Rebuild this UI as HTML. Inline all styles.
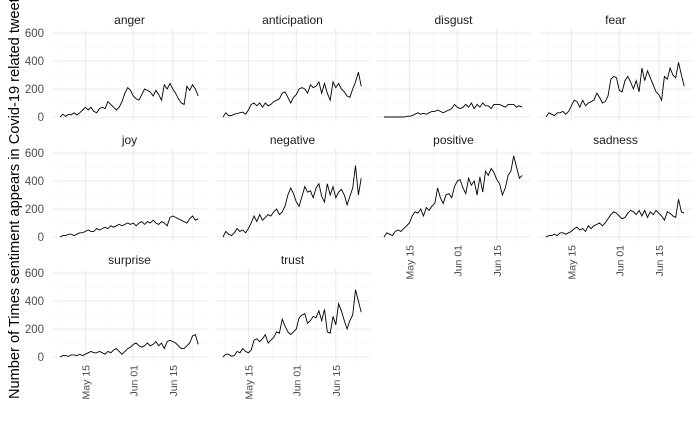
<!DOCTYPE html>
<html><head><meta charset="utf-8"><style>
body{margin:0;background:#fff;}
svg{display:block;font-family:"Liberation Sans",sans-serif;}
</style></head><body>
<svg id="chart" width="700" height="432" viewBox="0 0 700 432" xmlns="http://www.w3.org/2000/svg">
<text transform="translate(19,195) rotate(-90)" text-anchor="middle" font-size="14.6" fill="#000">Number of Times sentiment appears in Covid-19 related tweets</text>
</svg>
<script>
const facetNames = ["anger","anticipation","disgust","fear","joy","negative","positive","sadness","surprise","trust"];
const angerVals = [0,20,5,20,15,30,15,30,50,70,50,70,40,30,60,70,60,110,90,70,50,70,110,170,210,190,150,130,120,160,200,190,180,150,190,160,120,230,200,240,200,170,130,100,90,220,190,230,200,150];
const anticipationVals = [0,30,10,10,20,25,30,35,20,50,90,100,80,100,70,100,80,90,110,120,130,170,180,140,100,140,160,200,210,200,170,230,210,220,250,170,240,170,120,250,210,240,200,180,150,140,200,250,320,220];
const disgustVals = [0,0,0,0,0,0,0,0,5,5,10,20,30,20,25,20,30,40,40,50,40,30,40,50,60,90,70,60,70,90,70,100,60,90,70,100,80,80,60,90,90,90,80,70,90,90,90,70,80,70];
const fearVals = [0,30,20,10,30,30,40,20,40,80,120,110,70,120,80,100,110,120,170,140,100,110,150,270,290,280,190,180,260,290,250,200,260,180,350,260,330,280,230,180,160,120,290,270,350,300,280,390,300,220];
const joyVals = [0,10,10,20,20,10,20,30,30,40,50,40,40,60,50,60,70,60,80,70,80,90,80,90,100,90,100,80,100,110,90,110,100,120,100,90,110,100,80,140,150,140,130,120,110,100,130,150,120,130];
const negativeVals = [0,40,20,10,30,60,40,50,30,60,100,150,110,160,120,140,160,150,180,200,160,180,220,300,350,310,250,220,290,360,320,330,280,350,380,290,250,380,300,360,280,320,340,300,230,290,350,510,300,420];
const positiveVals = [0,30,20,10,40,50,40,60,80,100,150,180,170,200,150,210,190,220,240,350,280,240,300,310,280,360,400,410,350,310,420,370,400,300,430,320,470,440,490,460,410,380,300,350,440,470,580,500,420,440];
const sadnessVals = [0,10,10,20,10,30,30,20,30,40,60,70,50,60,40,80,60,80,90,100,80,100,130,160,180,170,150,130,140,170,190,180,160,190,150,190,140,180,160,190,170,150,120,180,170,150,140,270,180,170];
const surpriseVals = [0,10,10,5,15,15,10,20,10,20,30,40,30,30,40,30,20,40,30,50,60,40,20,40,60,70,90,100,80,70,80,100,80,90,110,80,100,60,110,120,110,100,80,60,60,80,100,150,160,90];
const trustVals = [0,20,20,5,10,40,30,60,40,30,50,120,130,110,130,160,100,120,140,180,170,270,220,180,160,180,200,280,300,310,240,260,290,280,330,260,340,180,170,290,230,380,330,260,200,260,300,480,400,320];
const yTicks = [0,200,400,600];
const yMinor = [100,300,500];
const xTickLabels = ["May 15","Jun 01","Jun 15"];
const xTickDays = [9,26,40];
const xMinorDays = [0.5,17.5,33,47];

const series = [angerVals,anticipationVals,disgustVals,fearVals,joyVals,negativeVals,positiveVals,sadnessVals,surpriseVals,trustVals];
const NS = "http://www.w3.org/2000/svg";
const svg = document.getElementById("chart");
const colLeft = [52,215,376,538], panelW = 155;
const rowZero = [117,237,357];
const ppu = 84/600;
function xs(col, d){ return colLeft[col] + 8 + d*2.82; }
function ys(row, v){ return rowZero[row] - v*ppu; }
function mk(tag, attrs){ const e=document.createElementNS(NS,tag); for(const k in attrs) e.setAttribute(k,attrs[k]); svg.appendChild(e); return e; }
const bottomFacets = {6:true,7:true,8:true,9:true};
facetNames.forEach((name,i)=>{
  const row=Math.floor(i/4), col=i%4;
  const top=ys(row,630), bot=ys(row,-30);
  const g=mk("g",{});
  
  
  yMinor.forEach(v=>{ const l=mk("line",{x1:colLeft[col],x2:colLeft[col]+panelW,y1:ys(row,v),y2:ys(row,v),stroke:"#f3f3f3","stroke-width":0.6});   });
  xMinorDays.forEach(d=>{ const l=mk("line",{x1:xs(col,d),x2:xs(col,d),y1:top,y2:bot,stroke:"#f3f3f3","stroke-width":0.6});   });
  yTicks.forEach(v=>{ const l=mk("line",{x1:colLeft[col],x2:colLeft[col]+panelW,y1:ys(row,v),y2:ys(row,v),stroke:"#ebebeb","stroke-width":1.1});   });
  xTickDays.forEach(d=>{ const l=mk("line",{x1:xs(col,d),x2:xs(col,d),y1:top,y2:bot,stroke:"#ebebeb","stroke-width":1.1});   });
  const t=mk("text",{x:colLeft[col]+panelW/2,y:rowZero[row]-93,"text-anchor":"middle","font-size":12,fill:"#1a1a1a"});
  t.textContent=name;
  
  
  const pts=series[i].map((v,d)=>xs(col,d).toFixed(1)+","+ys(row,v).toFixed(1)).join(" ");
  const p=mk("polyline",{points:pts,fill:"none",stroke:"#000","stroke-width":0.9});
  
  
  if(col===0){
    yTicks.forEach(v=>{ const y=mk("text",{x:44,y:ys(row,v)+4,"text-anchor":"end","font-size":11.5,fill:"#4d4d4d"}); y.textContent=String(v);   });
  }
  if(bottomFacets[i]){
    xTickDays.forEach((d,k)=>{ const x=xs(col,d)+4; const y=rowZero[row]+8;
      const tx=mk("text",{transform:`translate(${x},${y}) rotate(-90)`,"text-anchor":"end","font-size":10.5,fill:"#4d4d4d"});
      tx.textContent=xTickLabels[k];
      
       });
  }
});
</script>
</body></html>
